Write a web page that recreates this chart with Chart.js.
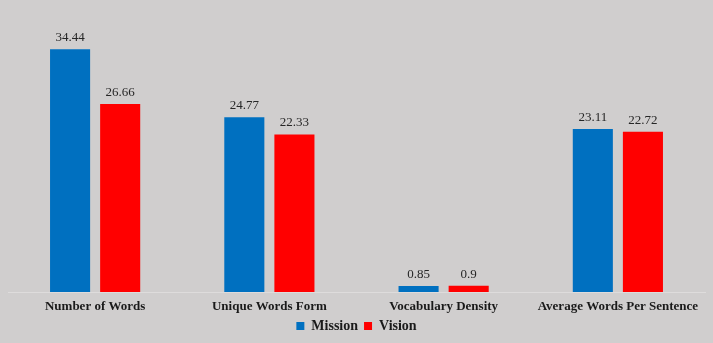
<!DOCTYPE html>
<html>
<head>
<meta charset="utf-8">
<script src="https://cdn.jsdelivr.net/npm/chart.js@4"></script>
<style>
  html, body { margin: 0; padding: 0; background: #D0CECE; }
  #wrap { width: 713px; height: 343px; }
</style>
</head>
<body>
<div id="wrap"><canvas id="chart"></canvas></div>
<script>
"use strict"

// Data
const categories = ['Number of Words', 'Unique Words Form', 'Vocabulary Density', 'Average Words Per Sentence'];
const missionValues = [34.44, 24.77, 0.85, 23.11];
const visionValues = [26.66, 22.33, 0.9, 22.72];

// Skriv värden ovanför staplarna
const barLabels = {
    id: 'barLabels',
    afterDatasetsDraw(chart) {
        const ctx = chart.ctx;
        ctx.save();
        ctx.font = '13px "Liberation Serif", serif';
        ctx.fillStyle = '#262626';
        ctx.textAlign = 'center';
        ctx.textBaseline = 'bottom';
        chart.data.datasets.forEach((ds, i) => {
            chart.getDatasetMeta(i).data.forEach((bar, j) => {
                ctx.fillText(ds.data[j], bar.x, bar.y - 5);
            });
        });
        ctx.restore();
    }
};

new Chart(document.getElementById('chart'), {
    type: 'bar',
    data: {
        labels: categories,
        datasets: [{
            label: 'Mission',
            data: missionValues,
            backgroundColor: '#0070C0',
            categoryPercentage: 0.575,
            barPercentage: 0.8
        }, {
            label: 'Vision',
            data: visionValues,
            backgroundColor: '#FF0000',
            categoryPercentage: 0.575,
            barPercentage: 0.8
        }]
    },
    options: {
        responsive: true,
        maintainAspectRatio: false,
        animation: false,
        layout: { padding: { left: 8, right: 8, top: 10, bottom: 0 } },
        scales: {
            x: {
                grid: { display: false },
                border: { color: '#DEDCDC', width: 1 },
                ticks: {
                    color: '#1a1a1a',
                    font: { family: '"Liberation Serif", serif', size: 13, weight: 'bold', lineHeight: 1 },
                    padding: 0
                }
            },
            y: {
                display: false,
                min: 0,
                max: 40
            }
        },
        plugins: {
            legend: {
                position: 'bottom',
                labels: {
                    boxWidth: 8,
                    boxHeight: 8,
                    color: '#1a1a1a',
                    padding: 6,
                    font: { family: '"Liberation Serif", serif', size: 14, weight: 'bold' }
                }
            },
            tooltip: { enabled: false }
        }
    },
    plugins: [barLabels]
});
</script>
</body>
</html>
